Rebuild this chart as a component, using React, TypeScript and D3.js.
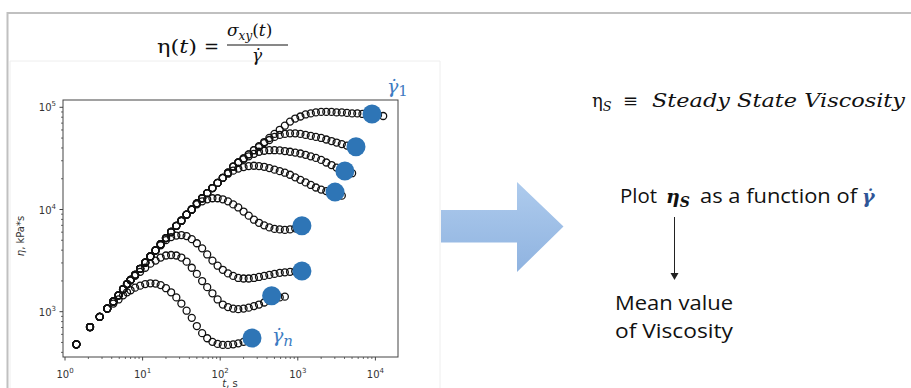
import React from 'react';
import * as d3 from 'd3';

// shared time grid (s)
const times = [1.4, 2.1, 2.8, 3.5, 4.2, 4.9, 5.6, 6.3, 7.0, 8.0, 9.3, 10.8, 12.6, 14.7, 17.1, 20, 23.3, 27.2, 31.6, 36.9, 43, 50, 58.5, 68, 79.4, 92.6, 108, 126, 147, 171, 200, 233, 272, 316, 369, 430, 501, 585, 681, 794, 926, 1080, 1260, 1470, 1710, 2000, 2330, 2720, 3160, 3690, 4300, 5010, 5850, 6810, 7940, 9260, 10800, 12600];

// common start-up envelope (kPa*s)
const startupEta = [479, 708, 891, 1072, 1259, 1445, 1660, 1862, 2042, 2291, 2630, 3020, 3467, 3981, 4571, 5248, 6026, 6918, 7762, 8913, 10000, 11480, 12880, 14450, 16220, 18200, 20420, 22910, 26300, 28840, 31620, 34670, 38020, 41690, 45710, 50120, 54950, 60260];

// index in the time grid where each curve leaves the envelope
const curveStart = [38, 33, 30, 27, 21, 14, 9, 4];

const tail1 = [66070, 72440, 77620, 81280, 85110, 87100, 89130, 90160, 90160, 90160, 89130, 89130, 88100, 87100, 87100, 86100, 86100, 85110, 84140, 82220];
const tail2 = [40740, 44670, 47860, 51290, 53700, 54950, 55590, 55590, 54950, 53700, 52480, 51290, 50120, 48420, 46770, 45190, 43650, 42170, 41210, 40740];
const tail3 = [30900, 33110, 35080, 36730, 37580, 38020, 38020, 37840, 37330, 36730, 36060, 35320, 34280, 33110, 31990, 30550, 28840, 27230, 25700, 24270, 23170, 22650];
const tail4 = [22390, 23990, 25120, 26000, 26610, 26790, 26610, 26180, 25410, 24550, 23710, 22910, 21880, 20650, 19500, 18410, 17380, 16410, 15670, 15140, 14790, 14450, 13650];
const tail5 = [11220, 12020, 12590, 12880, 12880, 12590, 12020, 11220, 10470, 9550, 8710, 7943, 7413, 7000, 6683, 6457, 6383, 6310, 6383, 6531, 6761];
const tail6 = [4467, 5012, 5370, 5559, 5623, 5495, 5129, 4677, 4169, 3631, 3162, 2818, 2570, 2371, 2239, 2138, 2113, 2113, 2138, 2188, 2239, 2291, 2344, 2399, 2427, 2455, 2483, 2512];
const tail7 = [2239, 2455, 2692, 2951, 3162, 3388, 3548, 3589, 3548, 3388, 3090, 2692, 2344, 1995, 1738, 1514, 1318, 1175, 1109, 1072, 1059, 1072, 1096, 1135, 1175, 1230, 1288, 1334, 1380, 1403];
const tail8 = [1202, 1318, 1445, 1549, 1622, 1718, 1799, 1862, 1897, 1884, 1820, 1698, 1549, 1380, 1202, 1023, 871, 724, 617, 550, 507, 484, 473, 473, 479, 490, 507, 525, 543];
const tails = [tail1, tail2, tail3, tail4, tail5, tail6, tail7, tail8];

// steady-state viscosity markers
const steadyT = [9040, 5620, 4040, 3020, 1130, 1130, 460, 257];
const steadyEta = [86000, 41200, 23800, 14800, 6930, 2500, 1435, 553];

const xTickExps = [0, 1, 2, 3, 4];
const yTickExps = [3, 4, 5];

const BLUE = '#2e75b6';

export default function App() {
  const x = d3.scaleLog().domain([1, 1e4]).range([65, 375.4]);
  const y = d3.scaleLog().domain([1e3, 1e5]).range([311.7, 107.3]);
  const P = { left: 63, right: 398, top: 100, bottom: 357 };
  const xAxis = d3.scaleLog().domain([x.invert(P.left), x.invert(P.right)]).range([P.left, P.right]);
  const yAxis = d3.scaleLog().domain([y.invert(P.bottom), y.invert(P.top)]).range([P.bottom, P.top]);
  const isMajor = (v: number) => Math.abs(Math.log10(v) - Math.round(Math.log10(v))) < 1e-6;
  const xMinor = xAxis.ticks().filter((v) => !isMajor(v));
  const yMinor = yAxis.ticks().filter((v) => !isMajor(v));

  const curves = tails.map((tail, k) => {
    const s = curveStart[k];
    const pts: [number, number][] = [];
    for (let i = 0; i < s; i++) pts.push([times[i], startupEta[i]]);
    tail.forEach((v, j) => pts.push([times[s + j], v]));
    return pts;
  });

  const tickFont = { fontFamily: 'DejaVu Sans', fontSize: 10, fill: '#333' };

  return (
    <svg width={911} height={388} style={{ position: 'absolute', left: 0, top: 0, background: '#fff' }}>
      <defs>
        <linearGradient id="arrowGrad" x1="0" y1="0" x2="0" y2="1">
          <stop offset="0" stopColor="#aecbed" />
          <stop offset="1" stopColor="#8fb3e0" />
        </linearGradient>
      </defs>
      <rect x={0} y={0} width={911} height={388} fill="#fff" />
      {/* slide border */}
      <path d="M7.5,388 L7.5,13 L911,13" fill="none" stroke="#c0c0c0" strokeWidth={2} />
      {/* faint image frame */}
      <path d="M10,388 L10,61 L440,61 L440,388" fill="none" stroke="#eeeeee" strokeWidth={1} />

      {/* formula */}
      <text x={157} y={53} fontFamily="DejaVu Serif" fontSize={19} fill="#111" textLength={40} lengthAdjust="spacingAndGlyphs">
        η(<tspan fontStyle="italic">t</tspan>)
      </text>
      <text x={204} y={53} fontFamily="DejaVu Serif" fontSize={18} fill="#111">=</text>
      <text x={227} y={36} fontFamily="DejaVu Serif" fontSize={17} fill="#111">
        <tspan fontStyle="italic">σ</tspan>
        <tspan fontStyle="italic" fontSize={12} dy={4}>xy</tspan>
        <tspan dy={-4}>(</tspan>
        <tspan fontStyle="italic">t</tspan>
        <tspan>)</tspan>
      </text>
      <line x1={227} x2={288} y1={45} y2={45} stroke="#111" strokeWidth={1} />
      <text x={257} y={61} fontFamily="DejaVu Serif" fontSize={17} fontStyle="italic" fill="#111" textAnchor="middle">
        γ̇
      </text>

      {/* plot frame */}
      <rect x={P.left} y={P.top} width={P.right - P.left} height={P.bottom - P.top} fill="none" stroke="#444" strokeWidth={1} />

      {/* x ticks */}
      {xTickExps.map((e) => (
        <g key={'xt' + e}>
          <line x1={xAxis(10 ** e)} x2={xAxis(10 ** e)} y1={P.bottom} y2={P.bottom + 3.5} stroke="#444" />
          <text x={xAxis(10 ** e)} y={378} textAnchor="middle" {...tickFont}>
            10<tspan dy={-5} fontSize={7}>{e}</tspan>
          </text>
        </g>
      ))}
      {xMinor.map((v, i) => (
        <line key={'xm' + i} x1={xAxis(v)} x2={xAxis(v)} y1={P.bottom} y2={P.bottom + 2} stroke="#444" strokeWidth={0.8} />
      ))}
      {/* y ticks */}
      {yTickExps.map((e) => (
        <g key={'yt' + e}>
          <line x1={P.left - 3.5} x2={P.left} y1={yAxis(10 ** e)} y2={yAxis(10 ** e)} stroke="#444" />
          <text x={56} y={yAxis(10 ** e) + 4} textAnchor="end" {...tickFont}>
            10<tspan dy={-5} fontSize={7}>{e}</tspan>
          </text>
        </g>
      ))}
      {yMinor.map((v, i) => (
        <line key={'ym' + i} x1={P.left - 2} x2={P.left} y1={yAxis(v)} y2={yAxis(v)} stroke="#444" strokeWidth={0.8} />
      ))}

      {/* axis labels */}
      <text transform="translate(24,236) rotate(-90)" textAnchor="middle" {...tickFont}>
        <tspan fontStyle="italic">η</tspan>, kPa*s
      </text>
      <text x={230} y={387} textAnchor="middle" {...tickFont}>
        <tspan fontStyle="italic">t</tspan>, s
      </text>

      {/* data */}
      {curves.map((pts, k) => (
        <g key={'c' + k}>
          {pts.map(([t, v], i) => (
            <circle key={i} cx={xAxis(t)} cy={yAxis(v)} r={3.5} fill="none" stroke="#111" strokeWidth={1.3} />
          ))}
        </g>
      ))}
      {steadyT.map((t, i) => (
        <circle key={'s' + i} cx={xAxis(t)} cy={yAxis(steadyEta[i])} r={9.5} fill={BLUE} />
      ))}

      {/* gamma labels */}
      <text x={387} y={93} fontFamily="DejaVu Serif" fontSize={19} fontStyle="italic" fill="#3d7cc2">
        γ̇<tspan fontStyle="normal" fontSize={15} dy={3}>1</tspan>
      </text>
      <text x={272} y={342} fontFamily="DejaVu Serif" fontSize={19} fontStyle="italic" fill="#3d7cc2">
        γ̇<tspan fontSize={15} dy={4}>n</tspan>
      </text>

      {/* big arrow */}
      <path d="M441,210 L517,210 L517,182 L563.5,226.5 L517,272 L517,242.5 L441,242.5 Z" fill="url(#arrowGrad)" />

      {/* right texts */}
      <text x={592} y={107} fontFamily="DejaVu Serif" fontSize={18} fill="#111">
        η<tspan fontStyle="italic" fontSize={13} dy={4}>S</tspan>
      </text>
      <text x={623} y={107} fontFamily="DejaVu Serif" fontSize={18} fill="#111">≡</text>
      <text x={652} y={107} fontFamily="DejaVu Serif" fontSize={18} fontStyle="italic" fill="#111" textLength={253} lengthAdjust="spacingAndGlyphs">
        Steady State Viscosity
      </text>

      <text x={620} y={203} fontFamily="Open Sans" fontSize={20} fill="#111" textLength={37} lengthAdjust="spacingAndGlyphs">Plot</text>
      <text x={666} y={203} fontFamily="DejaVu Serif" fontSize={19} fontWeight="bold" fontStyle="italic" fill="#111">
        η<tspan fontSize={14} dy={4}>S</tspan>
      </text>
      <text x={700} y={203} fontFamily="Open Sans" fontSize={20} fill="#111" textLength={157} lengthAdjust="spacingAndGlyphs">as a function of</text>
      <text x={862} y={203} fontFamily="DejaVu Serif" fontSize={19} fontWeight="bold" fontStyle="italic" fill="#2f5597">γ̇</text>

      <line x1={674.5} x2={674.5} y1={217} y2={274} stroke="#222" strokeWidth={1} />
      <path d="M670.5,273 L678.5,273 L674.5,280 Z" fill="#222" />

      <text x={615} y={310} fontFamily="Open Sans" fontSize={20} fill="#111" textLength={118} lengthAdjust="spacingAndGlyphs">Mean value</text>
      <text x={615} y={338} fontFamily="Open Sans" fontSize={20} fill="#111" textLength={118} lengthAdjust="spacingAndGlyphs">of Viscosity</text>
    </svg>
  );
}
